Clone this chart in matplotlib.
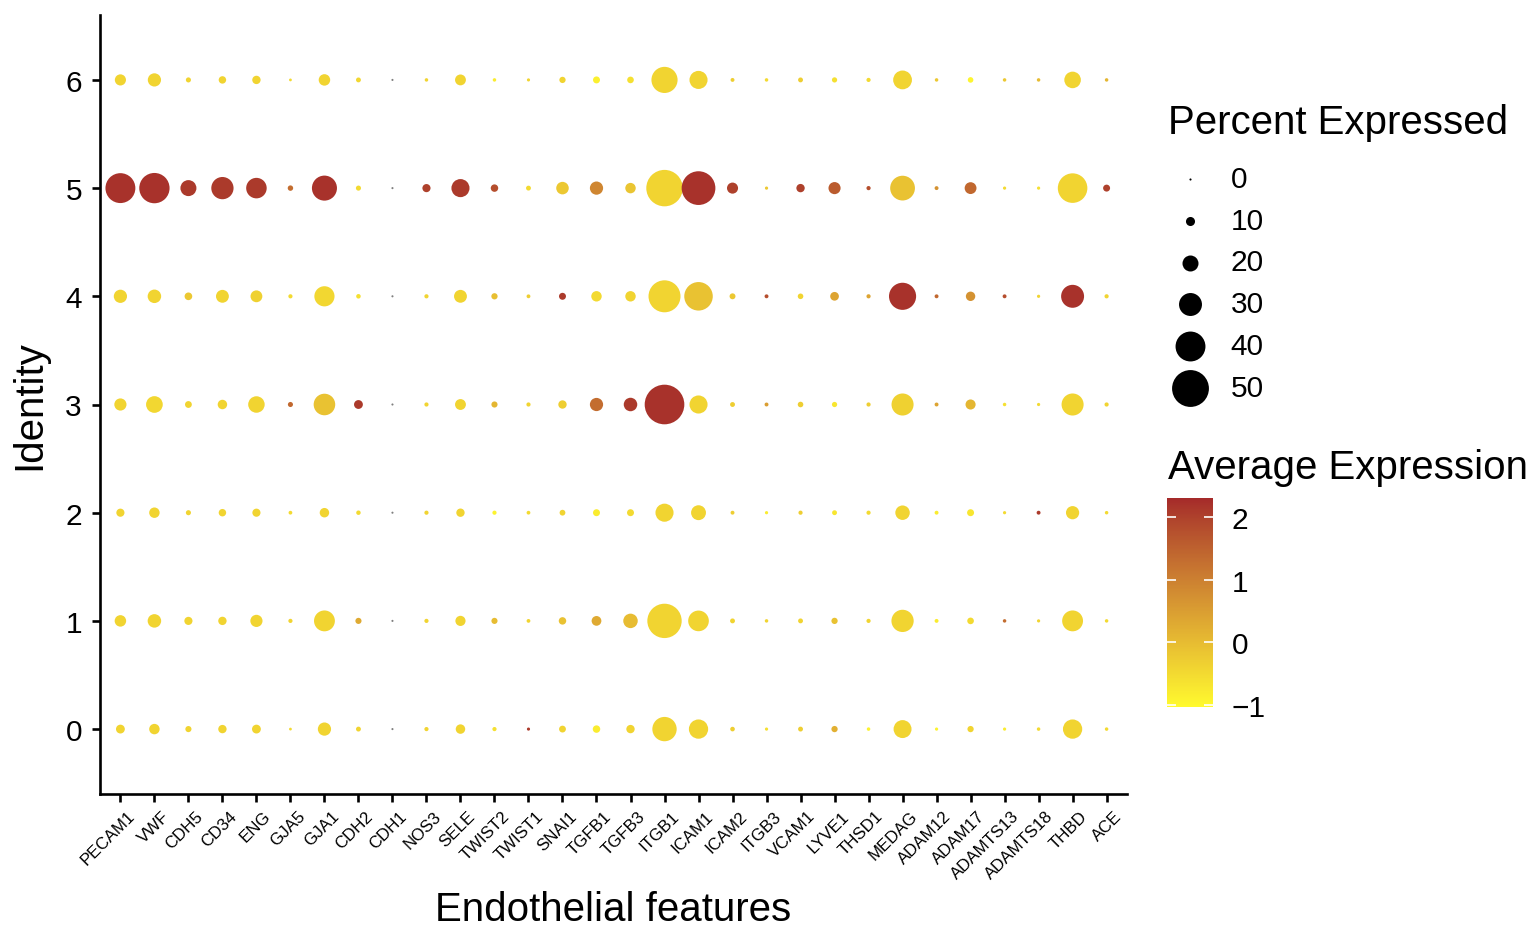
import numpy as np
import matplotlib
matplotlib.use("Agg")
import matplotlib.pyplot as plt
from matplotlib.colors import LinearSegmentedColormap, Normalize
from matplotlib.transforms import ScaledTranslation
import matplotlib.colorbar as mcolorbar

plt.rcParams['font.family'] = ['Liberation Sans', 'DejaVu Sans']

# ---------------- data ----------------
genes = ["PECAM1", "VWF", "CDH5", "CD34", "ENG", "GJA5", "GJA1", "CDH2", "CDH1", "NOS3",
         "SELE", "TWIST2", "TWIST1", "SNAI1", "TGFB1", "TGFB3", "ITGB1", "ICAM1", "ICAM2", "ITGB3",
         "VCAM1", "LYVE1", "THSD1", "MEDAG", "ADAM12", "ADAM17", "ADAMTS13", "ADAMTS18", "THBD", "ACE"]
identities = [0, 1, 2, 3, 4, 5, 6]

# percent of cells expressing (per identity)
pct_0 = [9.7, 12, 5.8, 9, 9.7, 1, 16, 4, 0, 3, 10.6, 3, 1.5, 6.8, 7.7, 9, 32, 24.7, 3.6, 1.6, 4, 6, 2, 22.8, 1.6, 6, 1.6, 2, 24.7, 2]
pct_1 = [13.5, 16.4, 8.7, 9, 14.5, 3, 27, 5.8, 0, 3, 11.6, 5.8, 2.4, 7.7, 11, 17.8, 46.4, 26.7, 4, 2, 4, 6, 3, 29, 2.6, 6.5, 2, 1.6, 27, 2]
pct_2 = [8.7, 12, 4.3, 7.7, 8.7, 2.4, 10.6, 3.4, 0, 3, 9, 3, 2.4, 5.3, 7, 7, 23, 18.4, 2.6, 1.6, 3, 4, 3, 17.8, 2.6, 7, 1.6, 2.6, 16, 2]
pct_3 = [14.5, 21, 6.8, 10.6, 20.7, 4.3, 28, 9.7, 0, 3, 12.6, 5.8, 3, 9, 16, 16.4, 54, 23, 4, 2.6, 5, 4.5, 3, 28.7, 2.6, 11.5, 2, 1.6, 28.7, 3]
pct_4 = [16, 16.4, 8, 15.5, 14, 3, 26, 3.5, 0, 3, 15.5, 6, 2.5, 7, 12, 12, 43, 38, 5.5, 2.6, 5, 9.5, 3, 36, 2.6, 10.5, 2.6, 1.6, 30, 3]
pct_5 = [40, 40.6, 20, 29, 26.5, 4.8, 33, 4.3, 0, 8.7, 23, 7.7, 4, 15, 16, 12, 49.4, 45.5, 12.9, 1.6, 9, 14.4, 3, 32.6, 2.6, 14, 1.6, 1.6, 39.5, 7]
pct_6 = [13, 16, 4.3, 7.7, 9, 1, 13.5, 4, 0, 2, 12.6, 2, 1.5, 6, 7, 6.5, 34.6, 23, 2.6, 2, 4, 4.5, 3, 24, 2, 5, 2, 2, 20.8, 2]

# scaled average expression (NaN = not expressed, drawn grey)
nan = float("nan")
avg_0 = [-0.4, -0.4, -0.4, -0.4, -0.4, -0.5, -0.4, -0.4, nan, -0.4, -0.4, -0.6, 2.1, -0.4, -0.8, -0.4, -0.4, -0.4, -0.3, -0.6, -0.3, 0.2, -0.9, -0.4, -0.9, -0.4, -0.8, -0.5, -0.4, -0.5]
avg_1 = [-0.4, -0.4, -0.4, -0.4, -0.4, -0.4, -0.4, 0.3, nan, -0.4, -0.4, 0.0, -0.4, -0.1, 0.3, 0.0, -0.4, -0.4, -0.4, -0.4, -0.4, -0.1, -0.4, -0.4, -0.8, -0.5, 1.3, -0.4, -0.4, -0.5]
avg_2 = [-0.4, -0.4, -0.4, -0.4, -0.4, -0.5, -0.4, -0.5, nan, -0.4, -0.4, -0.9, -0.5, -0.4, -0.8, -0.5, -0.4, -0.4, -0.3, -0.8, -0.3, -0.7, -0.5, -0.4, -0.8, -0.7, -0.5, 2.1, -0.4, -0.5]
avg_3 = [-0.4, -0.45, -0.4, -0.4, -0.4, 1.4, -0.1, 2.1, nan, -0.4, -0.4, 0.1, -0.4, -0.3, 1.3, 2.1, 2.2, -0.4, -0.3, 0.5, -0.3, -0.7, -0.3, -0.35, 0.4, 0.1, -0.6, -0.5, -0.4, -0.4]
avg_4 = [-0.4, -0.4, -0.2, -0.4, -0.35, -0.5, -0.45, -0.6, nan, -0.4, -0.4, -0.05, -0.3, 2.1, -0.5, -0.4, -0.4, -0.1, -0.2, 1.8, -0.4, 0.4, 0.4, 2.2, 1.4, 0.7, 1.8, -0.4, 2.2, -0.4]
avg_5 = [2.2, 2.2, 2.1, 2.1, 2.1, 1.3, 2.2, -0.5, nan, 2.0, 2.1, 1.8, -0.5, -0.2, 0.9, -0.15, -0.4, 2.2, 2.0, -0.2, 2.0, 1.6, 1.8, -0.1, 0.7, 1.4, -0.5, -0.6, -0.4, 2.0]
avg_6 = [-0.4, -0.4, -0.4, -0.4, -0.4, -0.5, -0.4, -0.45, nan, -0.4, -0.4, -0.8, -0.4, -0.4, -0.85, -0.6, -0.4, -0.4, -0.3, -0.5, -0.3, -0.6, -0.5, -0.4, -0.2, -0.95, -0.2, 0.0, -0.4, 0.1]

pct_rows = [pct_0, pct_1, pct_2, pct_3, pct_4, pct_5, pct_6]
avg_rows = [avg_0, avg_1, avg_2, avg_3, avg_4, avg_5, avg_6]

size_breaks = [0, 10, 20, 30, 40, 50]
color_ticks = [-1, 0, 1, 2]
color_limits = (-1.03, 2.3)

# ---------------- style helpers ----------------
DPI = 100
W, H = 1532, 928
TICK_FS = 21.5
TITLE_FS = 29


def _srgb_to_lab(rgb):
    rgb = np.asarray(rgb, float)
    c = np.where(rgb <= 0.04045, rgb / 12.92, ((rgb + 0.055) / 1.055) ** 2.4)
    M = np.array([[0.4124564, 0.3575761, 0.1804375],
                  [0.2126729, 0.7151522, 0.0721750],
                  [0.0193339, 0.1191920, 0.9503041]])
    xyz = M @ c / np.array([0.95047, 1.0, 1.08883])
    f = np.where(xyz > 0.008856, np.cbrt(xyz), 7.787 * xyz + 16 / 116)
    return np.array([116 * f[1] - 16, 500 * (f[0] - f[1]), 200 * (f[1] - f[2])])


def _lab_to_srgb(lab):
    L, a, b = lab
    fy = (L + 16) / 116
    fx = fy + a / 500
    fz = fy - b / 200
    f = np.array([fx, fy, fz])
    xyz = np.where(f ** 3 > 0.008856, f ** 3, (f - 16 / 116) / 7.787)
    xyz = xyz * np.array([0.95047, 1.0, 1.08883])
    Minv = np.array([[3.2404542, -1.5371385, -0.4985314],
                     [-0.9692660, 1.8760108, 0.0415560],
                     [0.0556434, -0.2040259, 1.0572252]])
    c = np.clip(Minv @ xyz, 0, 1)
    rgb = np.where(c <= 0.0031308, 12.92 * c, 1.055 * c ** (1 / 2.4) - 0.055)
    return np.clip(rgb, 0, 1)


low = matplotlib.colors.to_rgb("#FFFA2E")
high = matplotlib.colors.to_rgb("brown")
lab_lo, lab_hi = _srgb_to_lab(low), _srgb_to_lab(high)
ramp = [_lab_to_srgb(lab_lo + t * (lab_hi - lab_lo)) for t in np.linspace(0, 1, 256)]
cmap = LinearSegmentedColormap.from_list("yellow_brown_lab", ramp)
cmap.set_bad("#7F7F7F")
norm = Normalize(vmin=color_limits[0], vmax=color_limits[1])


def dot_size(p):
    d_px = 2.1 + 0.695 * np.asarray(p, float)
    return (d_px * 72.0 / DPI) ** 2


# ---------------- figure ----------------
fig = plt.figure(figsize=(W / DPI, H / DPI), dpi=DPI)
ax = fig.add_axes([100 / W, 1 - 795 / H, 1027 / W, 779 / H])

xs = np.arange(1, len(genes) + 1)
for ident, prow, arow in zip(identities, pct_rows, avg_rows):
    ax.scatter(xs, np.full(len(genes), ident), s=dot_size(prow), c=np.asarray(arow, float),
               cmap=cmap, norm=norm, linewidths=0, plotnonfinite=True, zorder=3)

ax.set_xlim(0.4, len(genes) + 0.6)
ax.set_ylim(-0.6, 6.6)
ax.set_xticks(xs)
ax.set_xticklabels(genes, rotation=45, ha="right", va="top", rotation_mode="anchor", fontsize=12.2)
ax.set_yticks(identities)
ax.set_yticklabels([str(i) for i in identities], fontsize=TICK_FS)

for side in ("top", "right"):
    ax.spines[side].set_visible(False)
for side in ("left", "bottom"):
    ax.spines[side].set_linewidth(1.9)
    ax.spines[side].set_color("black")
ax.tick_params(axis="both", length=6, width=1.9, color="black")
ax.tick_params(axis="y", pad=7)
ax.tick_params(axis="x", pad=4)
for lab in ax.get_xticklabels():
    lab.set_transform(lab.get_transform() + ScaledTranslation(7 / DPI, 0, fig.dpi_scale_trans))

ax.set_xlabel("Endothelial features", fontsize=TITLE_FS)
ax.set_ylabel("Identity", fontsize=TITLE_FS)
ax.xaxis.set_label_coords(0.5, -0.123)
ax.yaxis.set_label_coords(-0.05, 0.5)

# ---------------- size legend ----------------
fig.text(1168 / W, 1 - 134 / H, "Percent Expressed", fontsize=TITLE_FS, ha="left", va="baseline")
handles = [ax.scatter([], [], s=dot_size(b), color="black", linewidths=0) for b in size_breaks]
leg = fig.legend(handles, [str(b) for b in size_breaks], loc="upper left",
                 bbox_to_anchor=(1168 / W, 1 - 166 / H), frameon=False,
                 fontsize=TICK_FS, handlelength=1.44, handletextpad=0.65,
                 labelspacing=0.46, borderpad=0, borderaxespad=0, scatterpoints=1)

# ---------------- colour bar ----------------
fig.text(1168 / W, 1 - 479 / H, "Average Expression", fontsize=TITLE_FS, ha="left", va="baseline")
cax = fig.add_axes([1167 / W, 1 - 708 / H, 46 / W, 209 / H])
cb = mcolorbar.ColorbarBase(cax, cmap=cmap, norm=norm, orientation="vertical", ticks=color_ticks)
cb.outline.set_visible(False)
cax.tick_params(which="both", direction="in", length=6.5, width=1.2, color="white",
                left=True, right=True, labelleft=False, labelright=True,
                labelsize=TICK_FS, labelcolor="black", pad=13.5)
cax.minorticks_off()

fig.savefig("out.png", dpi=DPI)
